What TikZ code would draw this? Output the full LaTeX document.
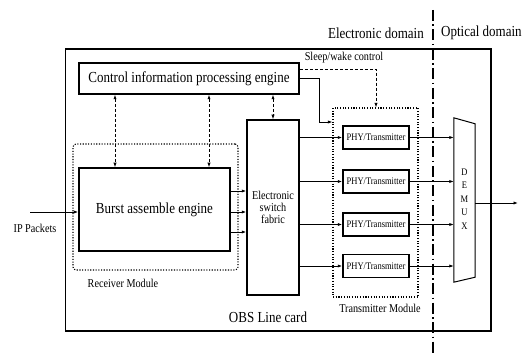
\documentclass[tikz,border=0pt]{standalone}
\usepackage{fontspec}
\setmainfont{Liberation Serif}[FakeStretch=0.85]
\usetikzlibrary{arrows.meta}
\newcommand{\bigf}{\fontsize{15.3}{17}\selectfont}
\newcommand{\midf}{\fontsize{12}{15}\selectfont}
\newcommand{\phyf}{\fontsize{10}{11}\selectfont}
\begin{document}
\begin{tikzpicture}[x=1pt,y=-1pt,
  >={Latex[length=4.5pt,width=3.2pt]},
  thickbox/.style={draw, line width=1.5pt, inner sep=0pt, align=center},
  dotbox/.style={draw, line width=1.1pt, dash pattern=on 1.1pt off 1.6pt, inner sep=0pt},
  arr/.style={->, line width=0.8pt},
  dasharr/.style={<->, line width=0.7pt, dash pattern=on 3pt off 2pt},
  lbl/.style={inner sep=0pt}]
\useasboundingbox (0,0) rectangle (532,355);
% domain separator
\coordinate (dtop) at (433,10);
\coordinate (dbot) at (433,355);
\draw[line width=1.3pt, dash pattern=on 11pt off 3.5pt on 1.5pt off 3.5pt] (dtop) -- (dbot);
\node[lbl, anchor=east] (edom) at (424,33) {\bigf Electronic domain};
\node[lbl, anchor=west] (odom) at (441,33) {\bigf Optical domain};
% line card
\node[draw, line width=1.2pt, minimum width=425.3pt, minimum height=282pt, inner sep=0pt] (card) at (278.35,190) {};
\node[lbl] (cardlbl) at (268,317) {\bigf OBS Line card};
% modules
\node[dotbox, rounded corners=3pt, minimum width=165pt, minimum height=126pt] (rxmod) at (155.5,207) {};
\node[lbl] (rxlbl) at (123,283) {\midf Receiver Module};
\node[dotbox, minimum width=85pt, minimum height=189pt] (txmod) at (375.5,202.5) {};
\node[lbl] (txlbl) at (380,308) {\midf Transmitter Module};
% blocks
\node[thickbox, minimum width=220pt, minimum height=31pt] (ctrl) at (189,78.5) {\bigf Control information processing engine};
\node[thickbox, minimum width=151pt, minimum height=83pt] (burst) at (154.5,209.5) {\bigf Burst assemble engine};
\node[thickbox, minimum width=52pt, minimum height=175pt] (sw) at (273,207.5) {};
\node[lbl, align=center] (swlbl) at (273,207) {\midf Electronic\\\midf switch\\\midf fabric};
\foreach \i/\yy in {1/137.5,2/181.5,3/224.5,4/266} {
  \node[thickbox, minimum width=66pt, minimum height=23pt] (phy\i) at (376,\yy) {\phyf PHY/Transmitter};
}
% DEMUX
\node[inner sep=0pt, minimum width=21pt, minimum height=164pt] (demux) at (464.5,200) {};
\draw[line width=1pt] (demux.north west) -- ([yshift=-6pt]demux.north east) -- ([yshift=5pt]demux.south east) -- (demux.south west) -- cycle;
\node[lbl, align=center] (dmxlbl) at (464.5,199) {\phyf D\\[1.5pt]\phyf E\\[1.5pt]\phyf M\\[1.5pt]\phyf U\\[1.5pt]\phyf X};
% IP packets
\coordinate (ipin) at (30,212);
\node[lbl] (iplbl) at (35,228) {\midf IP Packets};
\draw[arr] (ipin) -- (burst.west |- ipin);
% burst to switch
\foreach \yy in {191,212,232} {
  \coordinate (bs) at (0,\yy);
  \draw[arr] (burst.east |- bs) -- (sw.west |- bs);
}
% switch to PHY, PHY to DEMUX
\foreach \i in {1,...,4} {
  \draw[arr] (sw.east |- phy\i) -- (phy\i.west);
  \draw[arr] (phy\i.east) -- (demux.west |- phy\i);
}
% DEMUX output
\coordinate (outp) at (518,203);
\draw[arr] (demux.east |- outp) -- (outp);
% control dashed arrows
\coordinate (c1) at (115,0);
\coordinate (c2) at (209,0);
\draw[dasharr] (ctrl.south -| c1) -- (burst.north -| c1);
\draw[dasharr] (ctrl.south -| c2) -- (burst.north -| c2);
\draw[dasharr] (ctrl.south -| sw) -- (sw.north);
% sleep/wake control
\coordinate (sw1) at (0,69);
\coordinate (sw2) at (376,69);
\draw[->, line width=0.7pt, dash pattern=on 3pt off 2pt] (ctrl.east |- sw1) -- (sw2) -- (sw2 |- txmod.north);
\node[lbl] (sleeplbl) at (344,58) {\midf Sleep/wake control};
% control to transmitter module
\coordinate (k1) at (319,0);
\coordinate (k2) at (0,122);
\draw[arr] (ctrl.east) -- (ctrl.east -| k1) -- (k1 |- k2) -- (txmod.west |- k2);
\end{tikzpicture}
\end{document}
